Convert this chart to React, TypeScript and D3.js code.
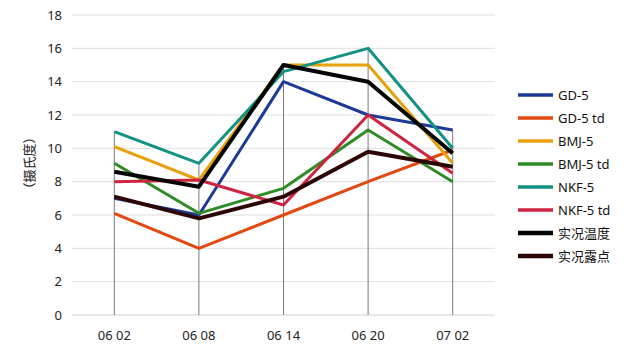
import React from "react";
import * as d3 from "d3";

const categories = ["06 02", "06 08", "06 14", "06 20", "07 02"];
const seriesNames = ["GD-5", "GD-5 td", "BMJ-5", "BMJ-5 td", "NKF-5", "NKF-5 td", "实况温度", "实况露点"];
const gd5 = [7, 6, 14, 12, 11.1];
const gd5td = [6.1, 4, 6, 8, 9.9];
const bmj5 = [10.1, 8.1, 15, 15, 9.1];
const bmj5td = [9.1, 6.1, 7.6, 11.1, 8];
const nkf5 = [11, 9.1, 14.6, 16, 10];
const nkf5td = [8, 8.1, 6.6, 12, 8.5];
const obsTemp = [8.6, 7.7, 15, 14, 9.7];
const obsDew = [7.1, 5.8, 7.1, 9.8, 8.9];
const colors = ["#1c3a96", "#e2480f", "#e8a10a", "#2f8c25", "#139283", "#cf2440", "#050505", "#2b0605"];
const widths = [3, 3, 3, 3, 3, 3, 4, 4];
const yTicks = [0, 2, 4, 6, 8, 10, 12, 14, 16, 18];
const yTitle = "（摄氏度）";

const allSeries = [gd5, gd5td, bmj5, bmj5td, nkf5, nkf5td, obsTemp, obsDew];

export default function App() {
  const W = 630, H = 344;
  const x = d3.scaleBand<string>().domain(categories).range([72, 495]);
  const y = d3.scaleLinear().domain([0, 18]).range([315, 15]);
  const cx = (c: string) => (x(c) as number) + x.bandwidth() / 2;
  const line = d3
    .line<number>()
    .x((_, i) => cx(categories[i]))
    .y((d) => y(d));
  const font = "'Noto Sans', 'Noto Sans CJK SC', sans-serif";
  return (
    <svg width={W} height={H} style={{ position: "absolute", left: 0, top: 0, background: "#fff" }} fontFamily={font}>
      <rect width={W} height={H} fill="#fff" />
      {yTicks.map((t) => (
        <g key={t}>
          <line x1={72} x2={495} y1={y(t)} y2={y(t)} stroke={t === 0 ? "#d0d0d0" : "#dedede"} strokeWidth={1} />
          <text x={62} y={y(t)} dy="0.35em" textAnchor="end" fontSize={13} fill="#222">
            {t}
          </text>
        </g>
      ))}
      {categories.map((c, i) => {
        const mx = d3.max(allSeries, (s) => s[i]) as number;
        return (
          <g key={c}>
            <line x1={cx(c)} x2={cx(c)} y1={y(mx)} y2={y(0)} stroke="#7a7a7a" strokeWidth={1} />
            <text x={cx(c)} y={335} dy="0.35em" textAnchor="middle" fontSize={13} fill="#222">
              {c}
            </text>
          </g>
        );
      })}
      {allSeries.map((s, k) => (
        <path key={k} d={line(s) as string} fill="none" stroke={colors[k]} strokeWidth={widths[k]} strokeLinejoin="round" />
      ))}
      <text
        transform={`translate(29,163) rotate(-90)`}
        textAnchor="middle"
        dy="0.35em"
        fontSize={13}
        fill="#222"
        fontFamily="'Noto Sans CJK SC', sans-serif"
      >
        {yTitle}
      </text>
      {seriesNames.map((n, k) => {
        const ly = 95 + k * 23;
        return (
          <g key={n}>
            <line x1={518} x2={553} y1={ly} y2={ly} stroke={colors[k]} strokeWidth={widths[k] + 0.5} />
            <text x={558} y={ly} dy="0.35em" fontSize={13} fill="#111">
              {n}
            </text>
          </g>
        );
      })}
    </svg>
  );
}
